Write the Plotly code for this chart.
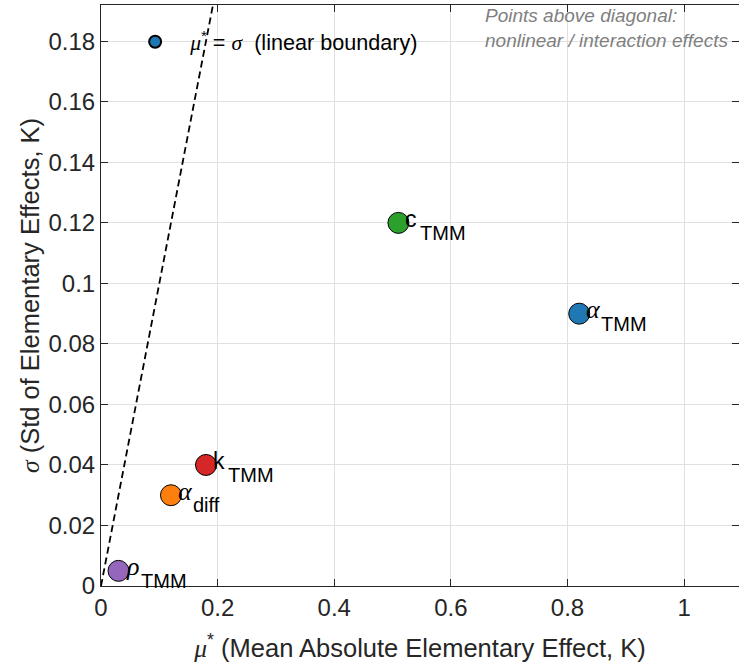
import plotly.graph_objects as go

# Morris screening results: mean absolute elementary effect vs. its spread
params = ["α_TMM", "c_TMM", "k_TMM", "α_diff", "ρ_TMM"]
symbols = ["α", "c", "k", "α", "ρ"]
subscripts = ["TMM", "TMM", "TMM", "diff", "TMM"]
greek = [True, False, False, True, True]
mu_star = [0.82, 0.51, 0.18, 0.12, 0.03]
sigma = [0.090, 0.120, 0.040, 0.030, 0.005]
colors = ["#1f77b4", "#2ca02c", "#d62728", "#ff7f0e", "#9467bd"]

x_ticks = [0, 0.2, 0.4, 0.6, 0.8, 1.0]
x_tick_text = ["0", "0.2", "0.4", "0.6", "0.8", "1"]
y_ticks = [0, 0.02, 0.04, 0.06, 0.08, 0.10, 0.12, 0.14, 0.16, 0.18]
y_tick_text = ["0", "0.02", "0.04", "0.06", "0.08", "0.1", "0.12", "0.14", "0.16", "0.18"]
x_range = [0, 1.094]
y_range = [0, 0.192]

SANS = "Liberation Sans, Arial, sans-serif"
SERIF = "Liberation Serif, DejaVu Serif, serif"
AX = "#262626"
TICK_SIZE = 24
LABEL_SIZE = 25.5

fig = go.Figure()

# mu* = sigma reference diagonal
diag = [0, min(x_range[1], y_range[1]) * 1.05]
fig.add_trace(go.Scatter(
    x=diag, y=diag, mode="lines",
    line=dict(color="black", width=1.8, dash="7px,4px"),
    showlegend=False, hoverinfo="skip",
))

legend_name = ("<i><span style='font-family:Liberation Serif'>μ</span></i><sup>*</sup>"
               " = <i><span style='font-family:Liberation Serif'>σ</span></i>"
               "\u00a0\u00a0(linear boundary)")

for i, p in enumerate(params):
    fig.add_trace(go.Scatter(
        x=[mu_star[i]], y=[sigma[i]], mode="markers", name=legend_name if i == 0 else p,
        marker=dict(size=21, color=colors[i], line=dict(color="black", width=1)),
        showlegend=(i == 0),
    ))
    sym_font = dict(family=SERIF, size=26, color="black") if greek[i] else dict(family=SANS, size=23, color="black")
    sym_text = f"<i>{symbols[i]}</i>" if greek[i] else symbols[i]
    fig.add_annotation(x=mu_star[i], y=sigma[i], text=sym_text, showarrow=False,
                       xanchor="left", yanchor="middle", xshift=5, yshift=4, font=sym_font)
    fig.add_annotation(x=mu_star[i], y=sigma[i], text=subscripts[i], showarrow=False,
                       xanchor="left", yanchor="middle", xshift=20, yshift=-10,
                       font=dict(family=SANS, size=20, color="black"))

fig.add_annotation(
    xref="paper", yref="paper", x=0.598, y=1.004, xanchor="left", yanchor="top",
    text="<i>Points above diagonal:<br>nonlinear / interaction effects</i>",
    showarrow=False, align="left", font=dict(family=SANS, size=19, color="#808080"),
)

axis_common = dict(
    showgrid=True, gridcolor="#e0e0e0", gridwidth=1, zeroline=False,
    showline=True, linecolor=AX, linewidth=1, mirror="ticks",
    ticks="inside", ticklen=7, tickcolor=AX, tickwidth=1,
    tickfont=dict(family=SANS, size=TICK_SIZE, color=AX),
)

fig.update_layout(
    width=739, height=666,
    margin=dict(l=101, r=0, t=5, b=80),
    paper_bgcolor="white", plot_bgcolor="white",
    font=dict(family=SANS, color=AX),
    xaxis=dict(range=x_range, tickvals=x_ticks, ticktext=x_tick_text,
               title=dict(text="<i><span style='font-family:Liberation Serif'>μ</span></i><sup>*</sup> (Mean Absolute Elementary Effect, K)",
                          font=dict(family=SANS, size=LABEL_SIZE, color=AX), standoff=19),
               **axis_common),
    yaxis=dict(range=y_range, tickvals=y_ticks, ticktext=y_tick_text,
               title=dict(text="<i><span style='font-family:Liberation Serif'>σ</span></i> (Std of Elementary Effects, K)",
                          font=dict(family=SANS, size=LABEL_SIZE, color=AX), standoff=1),
               **axis_common),
    legend=dict(x=0.03, y=0.936, xanchor="left", yanchor="middle",
                bgcolor="rgba(0,0,0,0)", borderwidth=0, itemwidth=60, itemsizing="constant",
                font=dict(family=SANS, size=21.6, color="black")),
)

fig.write_html("out.html")
